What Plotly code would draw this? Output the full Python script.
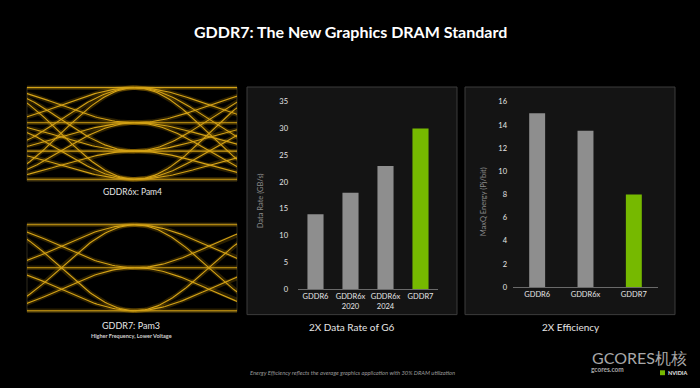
import numpy as np
import plotly.graph_objects as go

# ---------------- data ----------------
rate_categories = ["GDDR6", "GDDR6x<br>2020", "GDDR6x<br>2024", "GDDR7"]
rate_values = [14, 18, 23, 30]
rate_colors = ["#8e8e8e", "#8e8e8e", "#8e8e8e", "#76b900"]

energy_categories = ["GDDR6", "GDDR6x", "GDDR7"]
energy_values = [15, 13.5, 8]
energy_colors = ["#8e8e8e", "#8e8e8e", "#76b900"]

pam4_levels = [0, 0.92, 1.85, 3.0]   # GDDR6x signal levels (eye diagram)
pam3_levels = [0, 1.0, 2.0]          # GDDR7 signal levels (eye diagram)

W, H = 700, 388
def px(x):
    return x / W
def py(y):
    return 1 - y / H

fig = go.Figure()

# ---------------- eye diagrams ----------------
def eye_traces(levels, xa, ya):
    xs, ys = [], []
    t = np.linspace(0, 1, 60)
    shape = (1 - np.cos(np.pi * t)) / 2
    for start in (-0.5, 0.5):
        for a in levels:
            for b in levels:
                xs += list(start + t) + [None]
                ys += list(a + (b - a) * shape) + [None]
    glow = go.Scatter(x=xs, y=ys, mode="lines", xaxis=xa, yaxis=ya,
                      line=dict(color="rgba(220,160,0,0.2)", width=4.5),
                      hoverinfo="skip", showlegend=False)
    core = go.Scatter(x=xs, y=ys, mode="lines", xaxis=xa, yaxis=ya,
                      line=dict(color="rgb(212,162,22)", width=1.1),
                      hoverinfo="skip", showlegend=False)
    return [glow, core]

for tr in eye_traces(pam4_levels, "x3", "y3"):
    fig.add_trace(tr)
for tr in eye_traces(pam3_levels, "x4", "y4"):
    fig.add_trace(tr)

# ---------------- bar charts ----------------
fig.add_trace(go.Bar(x=rate_categories, y=rate_values, marker_color=rate_colors,
                     width=0.46, xaxis="x", yaxis="y", showlegend=False,
                     marker_line_width=0))
fig.add_trace(go.Bar(x=energy_categories, y=energy_values, marker_color=energy_colors,
                     width=0.33, xaxis="x2", yaxis="y2", showlegend=False,
                     marker_line_width=0))

tickfont = dict(family="Lato", size=7.5, color="#e6e6e6")
base_font = "Lato"

fig.update_layout(
    width=W, height=H,
    margin=dict(l=0, r=0, t=0, b=0),
    paper_bgcolor="black",
    plot_bgcolor="rgba(0,0,0,0)",
    font=dict(family=base_font, color="white"),
    xaxis=dict(domain=[px(298), px(438)], showgrid=False, zeroline=False,
               showline=True, linecolor="#6a6a6a", linewidth=1,
               tickfont=tickfont, ticks=""),
    yaxis=dict(domain=[py(292), py(100)], range=[0, 35], dtick=5,
               showgrid=False, zeroline=False, showline=False,
               tickfont=tickfont, ticks="", ticklabelstandoff=9),
    xaxis2=dict(domain=[px(513), px(658)], anchor="y2", showgrid=False, zeroline=False,
                showline=True, linecolor="#6a6a6a", linewidth=1,
                tickfont=tickfont, ticks=""),
    yaxis2=dict(domain=[py(290), py(100)], anchor="x2", range=[0, 16], dtick=2,
                showgrid=False, zeroline=False, showline=False,
                tickfont=tickfont, ticks="", ticklabelstandoff=5),
    xaxis3=dict(domain=[px(27), px(237)], anchor="y3", range=[-0.23, 1.19],
                visible=False),
    yaxis3=dict(domain=[py(182.5), py(82.5)], anchor="x3", range=[-0.1, 3.1],
                visible=False),
    xaxis4=dict(domain=[px(27), px(237)], anchor="y4", range=[-0.23, 1.19],
                visible=False),
    yaxis4=dict(domain=[py(317), py(223)], anchor="x4", range=[-0.068, 2.068],
                visible=False),
)

shapes = []
# panels
for x0, x1 in [(247, 457), (465, 675)]:
    shapes.append(dict(type="rect", xref="paper", yref="paper",
                       x0=px(x0), x1=px(x1), y0=py(318), y1=py(85),
                       fillcolor="#141414", line=dict(color="#3c3c3c", width=1),
                       layer="below"))
# eye boxes
for y0, y1 in [(181, 85), (315, 225)]:
    shapes.append(dict(type="rect", xref="paper", yref="paper",
                       x0=px(27), x1=px(237), y0=py(y0), y1=py(y1),
                       fillcolor="rgba(0,0,0,0)", line=dict(color="#2e2a1c", width=1),
                       layer="below"))
fig.update_layout(shapes=shapes)

ann = []
def text(x, y, s, size, color="white", bold=False, italic=False, angle=0, xanchor="center"):
    if bold:
        s = "<b>" + s + "</b>"
    if italic:
        s = "<i>" + s + "</i>"
    ann.append(dict(xref="paper", yref="paper", x=px(x), y=py(y), text=s,
                    showarrow=False, textangle=angle, xanchor=xanchor, yanchor="middle",
                    font=dict(family=base_font, size=size, color=color)))

text(350, 28.5, "GDDR7: The New Graphics DRAM Standard", 16, "white", bold=True)
text(132, 192, "GDDR6x: Pam4", 8.5, "#e6e6e6")
text(131, 329.5, "GDDR7: Pam3", 9, "#e6e6e6")
text(131, 340, "Higher Frequency, Lower Voltage", 5.5, "#d0d0d0", bold=True)
text(260, 202, "Data Rate (GB/s)", 7.5, "#8a8a8a", angle=-90)
text(483, 202, "MaxQ Energy (Pj/bit)", 7.5, "#8a8a8a", angle=-90)
text(352, 331, "2X Data Rate of G6", 10, "#e6e6e6")
text(571, 331, "2X Efficiency", 10, "#e6e6e6")
text(248, 377, "Energy Efficiency reflects the average graphics application with 30% DRAM utilization",
     5.8, "#9a9a9a", italic=True, xanchor="left")
text(639, 362, "GCORES机核", 16, "#a8a8a8")
text(589, 374.5, "gcores.com", 6.5, "#a8a8a8", bold=True, xanchor="left")
text(666, 377.5, "NVIDIA", 5.5, "#e6e6e6", bold=True, xanchor="left")
fig.update_layout(annotations=ann)
fig.add_shape(type="rect", xref="paper", yref="paper", x0=px(660), x1=px(665),
              y0=py(380), y1=py(375), fillcolor="#76b900", line_width=0)

fig.write_html("out.html", config={"displayModeBar": False, "staticPlot": True},
               post_script="document.body.style.margin='0';document.body.style.padding='0';"
                           "document.body.style.overflow='hidden';document.body.style.background='black';")
